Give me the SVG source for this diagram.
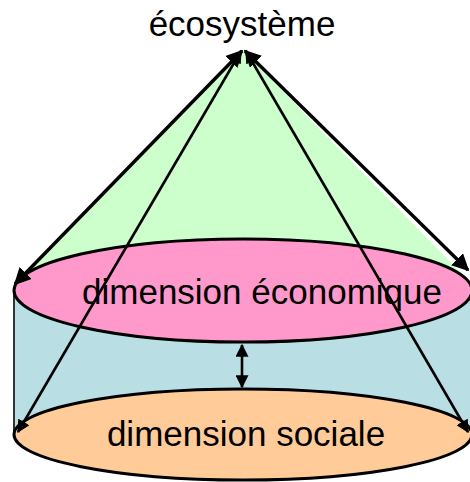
<svg xmlns="http://www.w3.org/2000/svg" width="470" height="482" viewBox="0 0 470 482">
<style>
.lbl{font-family:"Liberation Sans",Arial,sans-serif;font-size:35px;fill:#000;text-anchor:middle}
.ed{stroke:#000;stroke-width:3}
.ar{stroke:#000;stroke-width:2.6;fill:none;marker-end:url(#ah);marker-start:url(#ah)}
.ar.out{stroke-width:3.4}
</style>
<defs>
<marker id="ah" viewBox="0 0 10 10" refX="9" refY="5" markerWidth="5" markerHeight="5" orient="auto-start-reverse" markerUnits="strokeWidth">
<path d="M0,0 L10,5 L0,10 Z" fill="#000"/>
</marker>
</defs>
<g id="cone">
<polygon points="242,50 14,286 470,282" fill="#CCFFCC"/>
</g>
<g id="cylinder">
<rect x="14" y="290" width="460" height="144" fill="#B9DFE4"/>
<line x1="14" y1="287" x2="14" y2="434" stroke="#333" stroke-width="2"/>
</g>
<g id="social">
<ellipse cx="243" cy="434.5" rx="229" ry="45.5" fill="#FFCC99" class="ed"/>
<text class="lbl" x="246" y="446">dimension sociale</text>
</g>
<g id="economique">
<ellipse cx="243" cy="290.5" rx="229" ry="51.5" fill="#FF99CC" class="ed"/>
<text class="lbl" x="262" y="304">dimension économique</text>
</g>
<g id="ecosysteme">
<text class="lbl" x="242" y="36">écosystème</text>
</g>
<g id="connectors">
<line class="ar out" x1="242" y1="51" x2="15" y2="284"/>
<line class="ar out" x1="245" y1="51" x2="468" y2="270"/>
<line class="ar" x1="241" y1="51" x2="18" y2="432"/>
<line class="ar" x1="246" y1="51" x2="468" y2="432"/>
<line class="ar" x1="242" y1="345" x2="242" y2="387"/>
</g>
</svg>
